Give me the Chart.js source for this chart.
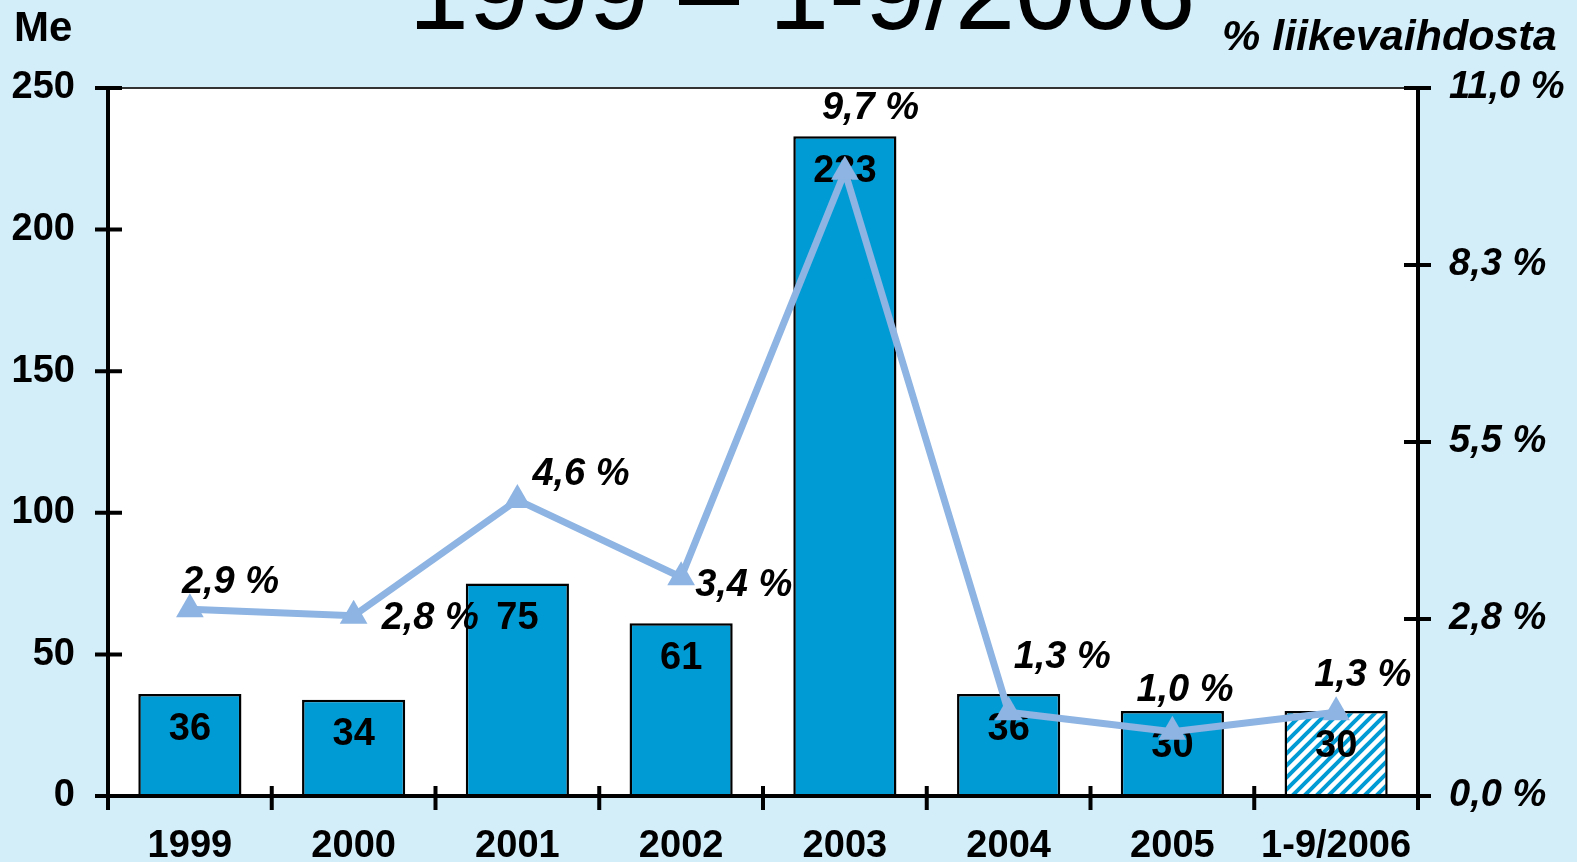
<!DOCTYPE html>
<html><head><meta charset="utf-8">
<script src="https://cdn.jsdelivr.net/npm/chart.js@4"></script>
<style>html,body{margin:0;padding:0;background:#D3EDF9;overflow:hidden}canvas{display:block}</style>
</head><body>
<canvas id="c" width="1577" height="862" style="width:1577px;height:862px"></canvas>
<script>
// ---- data ----
const categories = ['1999','2000','2001','2002','2003','2004','2005','1-9/2006'];
const investments = [36, 34, 75, 61, 233, 36, 30, 30];
const pctOfSales = [2.9, 2.8, 4.6, 3.4, 9.7, 1.3, 1.0, 1.3];
const pctLabels = ['2,9 %','2,8 %','4,6 %','3,4 %','9,7 %','1,3 %','1,0 %','1,3 %'];
const leftTicks = [0, 50, 100, 150, 200, 250];
const rightTicks = [0, 2.75, 5.5, 8.25, 11];
const rightTickLabels = ['0,0 %','2,8 %','5,5 %','8,3 %','11,0 %'];
const titleText = '1999 – 1-9/2006';
const leftUnit = 'Me';
const rightUnit = '% liikevaihdosta';

// ---- style ----
const F = '"Liberation Sans", Arial, sans-serif';
const BG = '#D3EDF9';
const BAR = '#009BD5';
const LINE = '#8DB4E2';
const FS = 38;
// label offsets for percent labels (dx, dy from point, left aligned)
const pctOffsets = [[-8,-27],[28,3],[15,-25],[14,8],[-23,-63],[5,-55],[-36,-41],[-22,-37]];

function hatch(){
  const s = 12;
  const p = document.createElement('canvas'); p.width = s; p.height = s;
  const g = p.getContext('2d');
  g.fillStyle = '#fff'; g.fillRect(0,0,s,s);
  g.strokeStyle = BAR; g.lineWidth = 4;
  g.beginPath();
  g.moveTo(-3, s+3); g.lineTo(s+3, -3);
  g.moveTo(-3, 3); g.lineTo(3, -3);
  g.moveTo(s-3, s+3); g.lineTo(s+3, s-3);
  g.stroke();
  return document.getElementById('c').getContext('2d').createPattern(p, 'repeat');
}
const barColors = categories.map((c,i)=> i === categories.length-1 ? hatch() : BAR);

const deco = {
  id: 'deco',
  beforeDraw(chart){
    const {ctx, chartArea:a} = chart;
    ctx.save();
    ctx.fillStyle = BG; ctx.fillRect(0,0,chart.width,chart.height);
    ctx.fillStyle = '#fff'; ctx.fillRect(a.left,a.top,a.right-a.left,a.bottom-a.top);
    // title
    ctx.fillStyle = '#000';
    ctx.textAlign = 'center'; ctx.textBaseline = 'alphabetic';
    ctx.font = '108px ' + F;
    ctx.fillText(titleText, 802, 29);
    ctx.font = 'bold 42px ' + F;
    ctx.textAlign = 'left';
    ctx.fillText(leftUnit, 14, 41);
    ctx.font = 'italic bold 43px ' + F;
    ctx.fillText(rightUnit, 1222, 50);
    ctx.restore();
  },
  afterDatasetDraw(chart, args){
    if (args.index !== 0) return;
    const {ctx} = chart;
    const meta = args.meta;
    ctx.save();
    ctx.fillStyle = '#000';
    ctx.font = 'bold ' + FS + 'px ' + F;
    ctx.textAlign = 'center'; ctx.textBaseline = 'middle';
    meta.data.forEach((el,i)=>{
      ctx.fillText(String(investments[i]), el.x, el.y + 35);
    });
    ctx.restore();
  },
  afterDraw(chart){
    const {ctx, chartArea:a, scales} = chart;
    ctx.save();
    // top border
    ctx.strokeStyle = '#333'; ctx.lineWidth = 2;
    ctx.beginPath(); ctx.moveTo(a.left, a.top); ctx.lineTo(a.right, a.top); ctx.stroke();
    ctx.strokeStyle = '#000'; ctx.lineWidth = 4;
    ctx.beginPath();
    ctx.moveTo(a.left, a.top); ctx.lineTo(a.left, a.bottom + 14);
    ctx.moveTo(a.right, a.top); ctx.lineTo(a.right, a.bottom + 14);
    ctx.moveTo(a.left - 13, a.bottom); ctx.lineTo(a.right + 13, a.bottom);
    leftTicks.forEach(v=>{
      const y = scales.y.getPixelForValue(v);
      ctx.moveTo(a.left - 13, y); ctx.lineTo(a.left + 14, y);
    });
    rightTicks.forEach(v=>{
      const y = scales.y1.getPixelForValue(v);
      ctx.moveTo(a.right - 14, y); ctx.lineTo(a.right + 13, y);
    });
    const x = scales.x;
    const half = (x.getPixelForValue(1) - x.getPixelForValue(0)) / 2;
    for (let i = 0; i <= categories.length; i++){
      const px = x.getPixelForValue(0) - half + i * 2 * half;
      ctx.moveTo(px, a.bottom - 10); ctx.lineTo(px, a.bottom + 14);
    }
    ctx.stroke();
    // percent labels
    const meta = chart.getDatasetMeta(1);
    ctx.fillStyle = '#000';
    ctx.font = 'italic bold ' + FS + 'px ' + F;
    ctx.textAlign = 'left'; ctx.textBaseline = 'middle';
    meta.data.forEach((el,i)=>{
      const o = pctOffsets[i];
      ctx.fillText(pctLabels[i], el.x + o[0], el.y + o[1]);
    });
    ctx.restore();
  }
};

const tickFont = {family: F, size: FS, weight: 'bold'};
new Chart(document.getElementById('c'), {
  data: {
    labels: categories,
    datasets: [
      {
        type: 'bar', label: 'Me', data: investments, yAxisID: 'y', order: 2,
        backgroundColor: barColors, borderColor: '#000', borderWidth: 2.5,
        barPercentage: 0.63, categoryPercentage: 1
      },
      {
        type: 'line', label: '%', data: pctOfSales, yAxisID: 'y1', order: 1,
        borderColor: LINE, borderWidth: 7, tension: 0, fill: false,
        pointStyle: 'triangle', pointRadius: 16, pointHoverRadius: 16,
        pointBackgroundColor: LINE, pointBorderColor: LINE, pointBorderWidth: 0
      }
    ]
  },
  options: {
    responsive: false, devicePixelRatio: 1, animation: false,
    layout: {padding: {top: 88, left: 0, right: 0, bottom: 0}},
    plugins: {legend: {display: false}, tooltip: {enabled: false}, title: {display: false}},
    scales: {
      x: {
        type: 'category', offset: true,
        grid: {display: false, drawTicks: false}, border: {display: false},
        ticks: {color: '#000', font: tickFont, padding: 28, maxRotation: 0, autoSkip: false},
        afterFit(s){ s.height = 66; }
      },
      y: {
        position: 'left', min: 0, max: 250,
        grid: {display: false, drawTicks: false}, border: {display: false},
        afterBuildTicks(s){ s.ticks = leftTicks.map(v=>({value: v})); },
        ticks: {color: '#000', font: tickFont, padding: 33},
        afterFit(s){ s.width = 108; }
      },
      y1: {
        position: 'right', min: 0, max: 11,
        grid: {display: false, drawTicks: false}, border: {display: false},
        afterBuildTicks(s){ s.ticks = rightTicks.map(v=>({value: v})); },
        ticks: {color: '#000', font: {family: F, size: FS, weight: 'bold', style: 'italic'}, padding: 31,
                callback: (v, i) => rightTickLabels[i]},
        afterFit(s){ s.width = 159; }
      }
    }
  },
  plugins: [deco]
});
</script>
</body></html>
